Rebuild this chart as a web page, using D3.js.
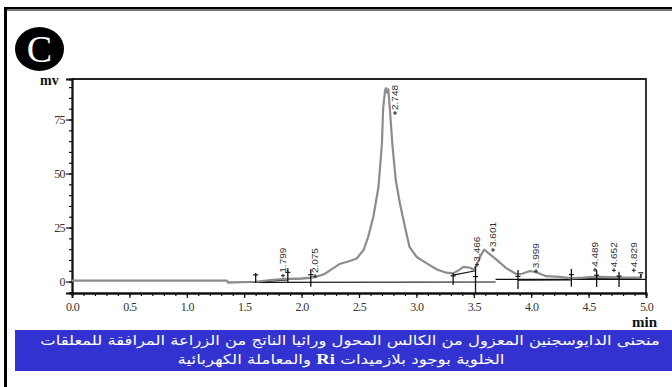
<!DOCTYPE html>
<html>
<head>
<meta charset="utf-8">
<script src="https://cdn.jsdelivr.net/npm/d3@7"></script>
<style>
  body { margin: 0; background: #fff; }
  svg { display: block; }
</style>
</head>
<body>
<script>
var w = 672;
var h = 387;

// chromatogram trace, [min, mv]
var trace = [[0,0.4],[1.35,0.4],[1.36,-0.5],[1.6,-0.1],[1.75,0.8],[1.88,1.2],[2.0,1.5],[2.08,1.8],
  [2.13,2.2],[2.2,3.5],[2.25,5.3],[2.33,8.1],[2.42,9.5],[2.48,10.7],[2.54,14.6],[2.58,20.7],
  [2.625,30],[2.67,43.9],[2.70,64],[2.71,80],[2.727,88.5],[2.735,89.5],[2.745,87.5],[2.755,89],
  [2.77,79],[2.79,64],[2.82,47],[2.857,36],[2.90,25.4],[2.94,16],[3.00,11.5],[3.09,8.4],
  [3.18,5.6],[3.26,4.1],[3.32,3.8],[3.37,5.3],[3.41,6.8],[3.47,6.4],[3.50,5.3],[3.53,8.4],
  [3.56,12],[3.59,14.8],[3.70,10],[3.785,6.1],[3.87,3.5],[3.92,3.6],[3.99,4.9],[4.05,4.2],
  [4.13,2.5],[4.25,2.2],[4.35,1.5],[4.45,1.8],[4.51,2.1],[4.6,2.2],[4.77,1.9],[4.95,1.8],[4.96,3.5]];

// integration baselines
var baselines = [
  [[1.35,-0.4],[3.69,-0.2]],
  [[3.69,1.0],[5.0,1.0]],
  [[1.60,-0.3],[1.88,0.8]],
  [[1.88,1.1],[2.08,1.5]],
  [[3.32,3.0],[3.515,5.0]],
  [[3.885,0.7],[4.35,0.8]],
  [[4.35,1.2],[4.955,1.3]]
];

// integration markers: time, top, bottom
var markTimes = [1.60, 1.88, 2.08, 3.32, 3.515, 3.885, 4.35, 4.57, 4.765, 4.955];
var markTop = [3.9, 6.2, 5.8, 3.9, 6.9, 5.3, 5.8, 5.3, 4.5, 3.5];
var markBot = [-0.7, -0.7, -2.4, -1.6, -5.3, -3.5, -2.4, -2.5, -2.5, 1.6];

// peak labels: text, anchor time, anchor mv
var peakNames = ["1.799", "2.075", "2.748", "3.466", "3.601", "3.999", "4.489", "4.652", "4.829"];
var peakT = [1.864, 2.143, 2.840, 3.554, 3.693, 4.068, 4.582, 4.747, 4.920];
var peakV = [4.1, 3.9, 79.4, 9.2, 16.0, 6.2, 6.8, 6.6, 6.6];

var xTicks = [0, 0.5, 1, 1.5, 2, 2.5, 3, 3.5, 4, 4.5, 5];
var yTicks = [0, 25, 50, 75];

var caption1 = "منحنى  الدايوسجنين المعزول من الكالس المحول وراثيا الناتج من الزراعة المرافقة للمعلقات";
var caption2a = "الخلوية بوجود بلازميدات ";
var caption2b = "Ri";
var caption2c = " والمعاملة الكهربائية";

var xScale = d3.scaleLinear().domain([0, 5]).range([72, 646]);
var yScale = d3.scaleLinear().domain([-5.3, 93.75]).range([293, 79]);

var svg = d3.select("body").append("svg")
  .attr("width", w)
  .attr("height", h);

// page frame
svg.append("rect").attr("x", 4).attr("y", 7).attr("width", w - 4).attr("height", 2.5).attr("fill", "#000");
svg.append("rect").attr("x", 4).attr("y", 9.5).attr("width", w - 4).attr("height", 1.5).attr("fill", "#777");
svg.append("rect").attr("x", 4).attr("y", 7).attr("width", 3).attr("height", h - 7).attr("fill", "#000");

// C badge
svg.append("ellipse").attr("cx", 39.5).attr("cy", 49).attr("rx", 24.5).attr("ry", 22).attr("fill", "#000");
svg.append("text")
  .attr("x", 39.5).attr("y", 62)
  .attr("text-anchor", "middle")
  .attr("font-family", "Liberation Serif")
  .attr("font-size", 38)
  .attr("fill", "#fff")
  .text("C");

// plot frame (top and right)
svg.append("path")
  .attr("d", "M" + xScale(0) + "," + yScale.range()[1] + "H" + xScale(5) + "V" + yScale.range()[0])
  .attr("fill", "none")
  .attr("stroke", "#222")
  .attr("stroke-width", 1.8);

// axes
var xMinor = d3.axisBottom(xScale).tickValues(d3.range(0, 51).map(function(d) { return d / 10; }))
  .tickSize(3).tickFormat("");
var xMajor = d3.axisBottom(xScale).tickValues(xTicks).tickSize(5).tickPadding(4).tickFormat(d3.format(".1f"));
var yMinor = d3.axisLeft(yScale).tickValues(d3.range(-5, 95, 5)).tickSize(3).tickFormat("");
var yMajor = d3.axisLeft(yScale).tickValues(yTicks).tickSize(6).tickPadding(1);

function styleAxis(g) {
  g.select(".domain").attr("stroke", "#111").attr("stroke-width", 1.8);
  g.selectAll(".tick line").attr("stroke", "#111").attr("stroke-width", 1.2);
  g.selectAll("text")
    .attr("font-family", "Liberation Serif")
    .attr("font-size", 12)
    .attr("letter-spacing", -0.6)
    .attr("fill", "#333");
}

svg.append("g").attr("transform", "translate(0,293)").call(xMinor).call(styleAxis);
svg.append("g").attr("transform", "translate(0,293)").call(xMajor).call(styleAxis);
svg.append("g").attr("transform", "translate(72,0)").call(yMinor).call(styleAxis);
svg.append("g").attr("transform", "translate(72,0)").call(yMajor).call(styleAxis);

// axis titles
svg.append("text").attr("x", 40).attr("y", 85)
  .attr("font-family", "Liberation Serif").attr("font-weight", "bold").attr("font-size", 14)
  .attr("fill", "#111").text("mv");
svg.append("text").attr("x", 632).attr("y", 327)
  .attr("font-family", "Liberation Serif").attr("font-weight", "bold").attr("font-size", 15)
  .attr("fill", "#111").text("min");

var line = d3.line()
  .x(function(d) { return xScale(d[0]); })
  .y(function(d) { return yScale(d[1]); });

// baselines
svg.selectAll(".base")
  .data(baselines)
  .enter().append("path")
  .attr("class", "base")
  .attr("d", line)
  .attr("fill", "none")
  .attr("stroke", "#111")
  .attr("stroke-width", 1.2);

// trace
svg.append("path")
  .datum(trace)
  .attr("d", line)
  .attr("fill", "none")
  .attr("stroke", "#8c8c8c")
  .attr("stroke-width", 2.2)
  .attr("stroke-linejoin", "round");

// integration markers
var marks = svg.selectAll(".mark")
  .data(markTimes)
  .enter().append("g")
  .attr("class", "mark");
marks.append("line")
  .attr("x1", function(d) { return xScale(d); })
  .attr("x2", function(d) { return xScale(d); })
  .attr("y1", function(d, i) { return yScale(markTop[i]); })
  .attr("y2", function(d, i) { return yScale(markBot[i]); })
  .attr("stroke", "#111").attr("stroke-width", 1.3);
marks.append("line")
  .attr("x1", function(d) { return xScale(d) - 2.5; })
  .attr("x2", function(d) { return xScale(d) + 2.5; })
  .attr("y1", function(d, i) { return yScale((markTop[i] + markBot[i]) / 2 + 1.5); })
  .attr("y2", function(d, i) { return yScale((markTop[i] + markBot[i]) / 2 + 1.5); })
  .attr("stroke", "#111").attr("stroke-width", 1.2);

// peak labels
var labels = svg.selectAll(".peak")
  .data(peakNames)
  .enter().append("g")
  .attr("class", "peak");
labels.append("text")
  .attr("transform", function(d, i) {
    return "translate(" + xScale(peakT[i]) + "," + yScale(peakV[i]) + ") rotate(-90)";
  })
  .attr("font-family", "Liberation Sans")
  .attr("font-size", 9)
  .attr("textLength", 25)
  .attr("lengthAdjust", "spacingAndGlyphs")
  .attr("fill", "#333")
  .text(function(d) { return d; });
labels.append("path")
  .attr("d", function(d, i) {
    var cx = xScale(peakT[i]) - 3, cy = yScale(peakV[i]) + 3;
    return "M" + (cx - 2) + "," + cy + "H" + (cx + 2) + "M" + cx + "," + (cy - 2) + "V" + (cy + 2);
  })
  .attr("stroke", "#222").attr("stroke-width", 1);

// caption band
svg.append("rect").attr("x", 15).attr("y", 330).attr("width", w - 15).attr("height", 41).attr("fill", "#3232d0");

function fitText(sel, cx, width) {
  var bw = sel.node().getComputedTextLength();
  var s = width / bw;
  sel.attr("transform", "translate(" + cx + ",0) scale(" + s + ",1) translate(" + (-cx) + ",0)");
}

var c1 = svg.append("text")
  .attr("x", 350).attr("y", 345)
  .attr("direction", "rtl")
  .attr("text-anchor", "middle")
  .attr("font-family", "DejaVu Sans")
  .attr("font-size", 13.5)
  .attr("fill", "#fff")
  .text(caption1);
fitText(c1, 350, 620);

var c2 = svg.append("text")
  .attr("x", 341).attr("y", 364)
  .attr("direction", "rtl")
  .attr("text-anchor", "middle")
  .attr("font-family", "DejaVu Sans")
  .attr("font-size", 13.5)
  .attr("fill", "#fff");
c2.append("tspan").text(caption2a);
c2.append("tspan").attr("font-family", "Liberation Serif").attr("font-weight", "bold").attr("font-size", 15).text(caption2b);
c2.append("tspan").text(caption2c);
fitText(c2, 341, 327);
</script>
</body>
</html>
